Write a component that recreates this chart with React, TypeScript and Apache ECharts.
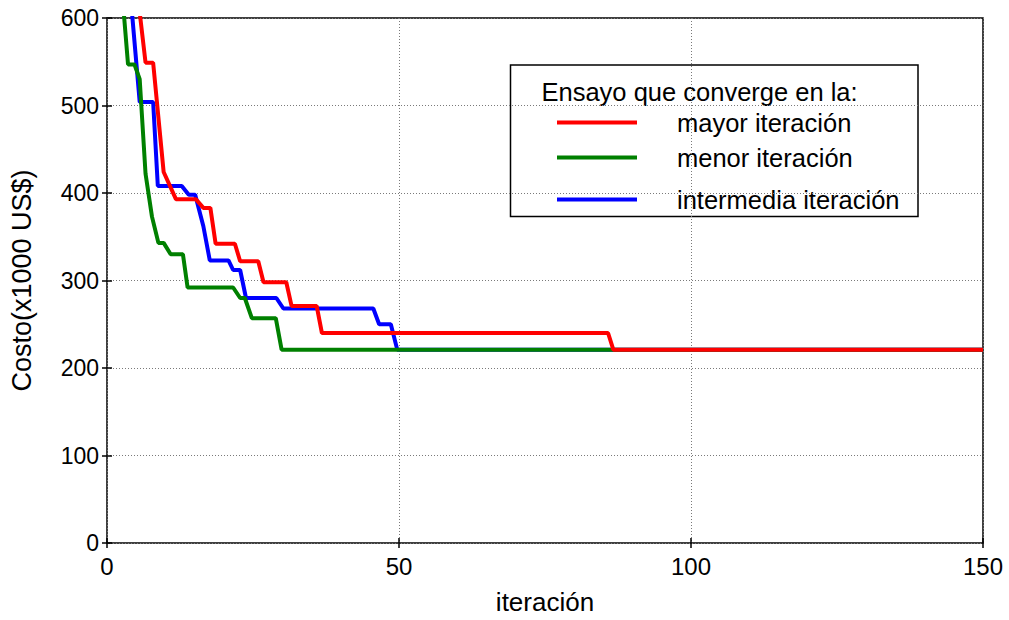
import React, { useEffect, useRef } from "react";
import * as echarts from "echarts";

// Cost per iteration for three optimisation runs (cost in thousands of US$).
const mayorIter = [5.5, 6.6, 7.9, 9.7, 11.8, 15.2, 16.5, 17.7, 18.6, 21.9, 22.8, 25.9, 26.8, 30.7, 31.6, 35.9, 36.8, 85.8, 86.7, 150];
const mayorCost = [612, 549, 549, 424, 393, 393, 383, 383, 342, 342, 322, 322, 298, 298, 271, 271, 240, 240, 221, 221];

const menorIter = [2.8, 3.6, 4.7, 5.6, 6.6, 7.7, 8.8, 9.7, 10.9, 13.0, 13.8, 21.6, 22.8, 23.6, 24.8, 28.9, 29.9, 150];
const menorCost = [612, 547, 547, 530, 422, 373, 343, 343, 330, 330, 292, 292, 280, 280, 257, 257, 221, 221];

const interIter = [4.2, 5.6, 7.9, 8.7, 12.8, 14.0, 15.1, 16.5, 17.6, 20.8, 21.6, 22.8, 23.8, 29.0, 30.2, 45.6, 46.6, 48.6, 49.7, 150];
const interCost = [612, 504, 504, 408, 408, 398, 398, 362, 323, 323, 312, 312, 280, 280, 268, 268, 250, 250, 221, 221];

const seriesNames = ["mayor iteración", "menor iteración", "intermedia iteración"];
const seriesColors = ["#ff0000", "#008000", "#0000ff"];
const legendTitle = "Ensayo que converge en la:";

const xTicks = [0, 150, 50];
const yTicks = [0, 600, 100];

const FONT = "'Liberation Sans', Arial, Helvetica, sans-serif";

function pairs(xs: number[], ys: number[]) {
  return xs.map((x, i) => [x, ys[i]]);
}

export default function App() {
  const ref = useRef<HTMLDivElement>(null);

  useEffect(() => {
    if (!ref.current) return;
    const chart = echarts.init(ref.current, undefined, { renderer: "svg" });

    const gridLine = { show: true, lineStyle: { color: "#7a7a7a", type: [1, 2] as any, width: 1 } };
    const tick = { show: true, inside: true, length: 5, lineStyle: { color: "#000", width: 1.5 } };

    // Drawn bottom to top: intermediate, fewest, most iterations.
    const dataSets = [
      { name: seriesNames[2], color: seriesColors[2], data: pairs(interIter, interCost) },
      { name: seriesNames[1], color: seriesColors[1], data: pairs(menorIter, menorCost) },
      { name: seriesNames[0], color: seriesColors[0], data: pairs(mayorIter, mayorCost) },
    ];

    // Legend box drawn as a graphic group (title line + three entries).
    const legendX = 510.5;
    const legendY = 65;
    const rowY = [122.5, 157.5, 199.5];
    const legendFont = `25.5px ${FONT}`;
    const legendChildren: any[] = [
      {
        type: "rect",
        shape: { x: legendX, y: legendY, width: 407.5, height: 151.5 },
        style: { fill: "#fff", stroke: "#000", lineWidth: 1.5 },
      },
      {
        type: "text",
        x: 541.5,
        y: 92,
        style: { text: legendTitle, font: legendFont, fill: "#000", verticalAlign: "middle", align: "left" },
      },
    ];
    [0, 1, 2].forEach((i) => {
      legendChildren.push({
        type: "line",
        shape: { x1: 557, y1: rowY[i], x2: 637, y2: rowY[i] },
        style: { stroke: seriesColors[i], lineWidth: 4 },
      });
      legendChildren.push({
        type: "text",
        x: 677,
        y: rowY[i] + 0.5,
        style: { text: seriesNames[i], font: legendFont, fill: "#000", verticalAlign: "middle", align: "left" },
      });
    });

    chart.setOption({
      animation: false,
      backgroundColor: "#fff",
      textStyle: { fontFamily: FONT },
      grid: {
        left: 103,
        right: 26,
        top: 18,
        bottom: 72.5,
        show: true,
        borderColor: "#000",
        borderWidth: 1.5,
        containLabel: false,
      },
      xAxis: [
        {
          type: "value",
          min: xTicks[0],
          max: xTicks[1],
          interval: xTicks[2],
          name: "iteración",
          nameLocation: "middle",
          nameGap: 46,
          nameTextStyle: { fontSize: 26, color: "#000", fontFamily: FONT },
          axisLine: { show: false },
          axisTick: tick,
          axisLabel: { fontSize: 24, color: "#000", margin: 11, fontFamily: FONT },
          splitLine: gridLine,
        },
        {
          type: "value",
          position: "top",
          min: xTicks[0],
          max: xTicks[1],
          interval: xTicks[2],
          axisLine: { show: false },
          axisTick: tick,
          axisLabel: { show: false },
          splitLine: { show: false },
        },
      ],
      yAxis: [
        {
          type: "value",
          min: yTicks[0],
          max: yTicks[1],
          interval: yTicks[2],
          name: "Costo(x1000 US$)",
          nameLocation: "middle",
          nameGap: 72,
          nameTextStyle: { fontSize: 27, color: "#000", fontFamily: FONT },
          axisLine: { show: false },
          axisTick: tick,
          axisLabel: { fontSize: 23, color: "#000", margin: 8, fontFamily: FONT },
          splitLine: gridLine,
        },
        {
          type: "value",
          position: "right",
          min: yTicks[0],
          max: yTicks[1],
          interval: yTicks[2],
          axisLine: { show: false },
          axisTick: tick,
          axisLabel: { show: false },
          splitLine: { show: false },
        },
      ],
      series: dataSets.map((d) => ({
        type: "line",
        name: d.name,
        data: d.data,
        xAxisIndex: 0,
        yAxisIndex: 0,
        symbol: "none",
        clip: true,
        lineStyle: { color: d.color, width: 4 },
        itemStyle: { color: d.color },
      })),
      graphic: [{ type: "group", z: 100, children: legendChildren }],
    });

    return () => chart.dispose();
  }, []);

  return (
    <div style={{ position: "fixed", left: 0, top: 0, width: 1009, height: 620, overflow: "visible" }}>
      <div ref={ref} style={{ width: 1009, height: 620 }} />
    </div>
  );
}
